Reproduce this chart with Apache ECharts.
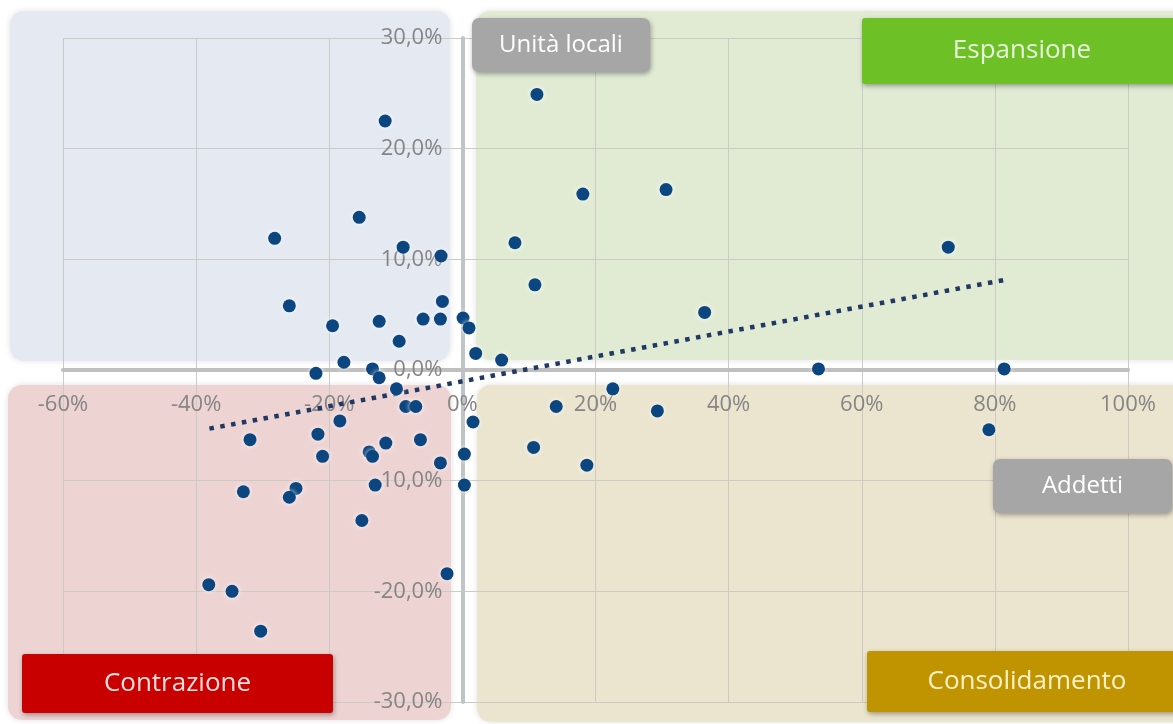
<!DOCTYPE html>
<html>
<head>
<meta charset="utf-8">
<script src="https://cdn.jsdelivr.net/npm/echarts@6/dist/echarts.min.js"></script>
<style>
html, body { margin: 0; background: #fff; }
#chart { width: 1173px; height: 724px; }
</style>
</head>
<body>
<div id="chart"></div>
<script>
// variazione % addetti (asse x) e unità locali (asse y)
var addetti = [11.2, 18.1, 30.6, 7.9, 10.9, 36.4, 73.0, 53.5, 81.4, 79.1,
    5.9, 2.0, 0.1, 1.0, 22.6, 14.1, 29.3, 1.6, 10.7, 18.7,
    0.3, 0.3, -11.6, -15.5, -28.2, -8.9, -3.2, -26.0, -3.0, -19.5,
    -12.5, -5.9, -3.3, -9.5, -17.8, -22.0, -13.5, -12.5, -9.9, -8.5,
    -7.0, -18.4, -31.9, -21.7, -21.0, -14.0, -13.5, -11.5, -6.3, -3.3,
    -13.1, -32.9, -25.0, -26.0, -15.1, -2.3, -38.1, -34.6, -30.3];
var unitaLocali = [24.9, 15.9, 16.3, 11.5, 7.7, 5.2, 11.1, 0.1, 0.1, -5.4,
    0.9, 1.5, 4.7, 3.8, -1.7, -3.3, -3.7, -4.7, -7.0, -8.6,
    -7.6, -10.4, 22.5, 13.8, 11.9, 11.1, 10.3, 5.8, 6.2, 4.0,
    4.4, 4.6, 4.6, 2.6, 0.7, -0.3, 0.1, -0.7, -1.7, -3.3,
    -3.3, -4.6, -6.3, -5.8, -7.8, -7.4, -7.8, -6.6, -6.3, -8.4,
    -10.4, -11.0, -10.7, -11.5, -13.6, -18.4, -19.4, -20.0, -23.6];
// linea di tendenza
var trendX = [-38, 82];
var trendY = [-5.3, 8.2];

var FONT = '"Open Sans", "DejaVu Sans", sans-serif';

// area del grafico (px)
var G = { left: 63, right: 45, top: 38, bottom: 22 };
var W = 1173, H = 724;
var X_MIN = -60, X_MAX = 100, Y_MIN = -30, Y_MAX = 30;
var plotW = W - G.left - G.right, plotH = H - G.top - G.bottom;
// sposto gli assi sullo zero
var xOffset = -plotH * (0 - Y_MIN) / (Y_MAX - Y_MIN);
var yOffset = -plotW * (0 - X_MIN) / (X_MAX - X_MIN);

var points = [];
for (var i = 0; i < addetti.length; i++) {
    points.push([addetti[i], unitaLocali[i]]);
}
var trend = [];
for (var j = 0; j < trendX.length; j++) {
    trend.push([trendX[j], trendY[j]]);
}

function area(x, y, w, h, fill) {
    return {
        type: 'rect', z: -10,
        shape: { x: x, y: y, width: w, height: h, r: 14 },
        style: { fill: fill, shadowBlur: 6, shadowColor: 'rgba(0,0,0,0.12)' }
    };
}

function box(x, y, w, h, r, fill, label, color, size) {
    return {
        type: 'group', z: 100,
        children: [{
            type: 'rect', z: 100,
            shape: { x: x, y: y, width: w, height: h, r: r },
            style: { fill: fill, shadowBlur: 5, shadowOffsetX: 1, shadowOffsetY: 2, shadowColor: 'rgba(0,0,0,0.35)' }
        }, {
            type: 'text', z: 101,
            x: x + w / 2, y: y + h / 2,
            style: {
                text: label, fill: color, fontSize: size, fontFamily: FONT,
                textAlign: 'center', textVerticalAlign: 'middle',
                align: 'center', verticalAlign: 'middle'
            }
        }]
    };
}

var chart = echarts.init(document.getElementById('chart'));

var option = {
    animation: false,
    grid: {
        left: G.left, right: G.right, top: G.top, bottom: G.bottom,
        containLabel: false, outerBoundsMode: 'none'
    },
    graphic: [
        area(10, 11, 440, 350, '#e4e9f2'),
        area(476, 11, 720, 349, '#e1ebd4'),
        area(8, 385, 443, 335, '#eed3d3'),
        area(477, 385, 720, 337, '#ebe5cf'),
        box(472, 18, 178, 54, 7, '#a6a6a6', 'Unità locali', '#ffffff', 24),
        box(862, 18, 320, 66, 3, '#6dc127', 'Espansione', '#e8f3dc', 26),
        box(993, 459, 179, 54, 7, '#a6a6a6', 'Addetti', '#ffffff', 24),
        box(22, 654, 311, 59, 3, '#c80000', 'Contrazione', '#f8dede', 26),
        box(867, 651, 320, 61, 3, '#bf9400', 'Consolidamento', '#fff2c4', 26)
    ],
    xAxis: {
        type: 'value', min: X_MIN, max: X_MAX, interval: 20,
        position: 'bottom', offset: xOffset,
        axisLine: { onZero: false, lineStyle: { color: '#bfbfbf', width: 4 } },
        axisTick: { show: false },
        axisLabel: {
            color: '#858585', fontSize: 22, fontFamily: FONT, margin: 24,
            formatter: function (v) { return v + '%'; }
        },
        splitLine: { show: true, lineStyle: { color: '#cbcbc6', width: 1 } }
    },
    yAxis: {
        type: 'value', min: Y_MIN, max: Y_MAX, interval: 10,
        position: 'left', offset: yOffset,
        axisLine: { onZero: false, lineStyle: { color: '#bfc4c6', width: 4 } },
        axisTick: { show: false },
        axisLabel: {
            color: '#858585', fontSize: 22, fontFamily: FONT, margin: 20,
            formatter: function (v) { return v.toFixed(1).replace('.', ',') + '%'; }
        },
        splitLine: { show: true, lineStyle: { color: '#cbcbc6', width: 1 } }
    },
    series: [{
        type: 'line',
        data: trend,
        showSymbol: false,
        z: 3,
        lineStyle: { color: '#1f3864', width: 4.5, type: [4.5, 6.5] }
    }, {
        type: 'scatter',
        data: points,
        symbolSize: 13,
        z: 4,
        itemStyle: {
            color: '#0b4680', opacity: 1,
            shadowBlur: 5, shadowColor: 'rgba(255,255,255,0.9)'
        }
    }]
};

chart.setOption(option);
</script>
</body>
</html>
